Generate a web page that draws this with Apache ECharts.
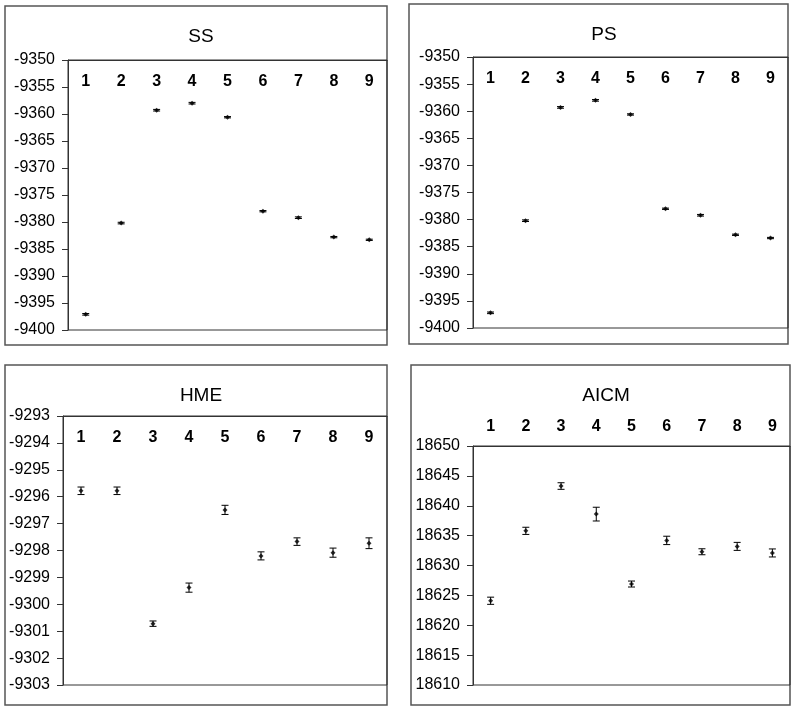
<!DOCTYPE html>
<html>
<head>
<meta charset="utf-8">
<script src="https://cdn.jsdelivr.net/npm/echarts@6/dist/echarts.min.js"></script>
<style>
  html, body { margin: 0; padding: 0; background: #fff; }
  #chart { width: 797px; height: 710px; }
</style>
</head>
<body>
<div id="chart"></div>
<script>
// categories (models 1..9)
const cats = ['1', '2', '3', '4', '5', '6', '7', '8', '9'];

// SS
const ssMean = [-9397.1, -9380.2, -9359.3, -9358.0, -9360.6, -9378.0, -9379.2, -9382.8, -9383.3];
const ssErr = [0.15, 0.15, 0.15, 0.15, 0.12, 0.12, 0.15, 0.12, 0.12];
// PS
const psMean = [-9397.2, -9380.2, -9359.3, -9358.0, -9360.6, -9378.0, -9379.2, -9382.8, -9383.4];
const psErr = [0.15, 0.15, 0.15, 0.15, 0.12, 0.12, 0.15, 0.12, 0.12];
// HME
const hmeMean = [-9295.78, -9295.78, -9300.72, -9299.38, -9296.49, -9298.2, -9297.67, -9298.08, -9297.73];
const hmeErr = [0.14, 0.14, 0.1, 0.17, 0.17, 0.15, 0.14, 0.17, 0.2];
// AICM
const aicmMean = [18624.1, 18635.8, 18643.3, 18638.6, 18626.9, 18634.2, 18632.3, 18633.2, 18632.1];
const aicmErr = [0.6, 0.6, 0.55, 1.15, 0.5, 0.7, 0.5, 0.67, 0.67];

const panels = [
  { name: 'SS', mean: ssMean, err: ssErr, min: -9400, max: -9350, step: 5, inside: true,
    grid: { left: 68, top: 60, width: 319, height: 270 }, box: [5, 6, 382, 339], tx: 196, ty: 22 },
  { name: 'PS', mean: psMean, err: psErr, min: -9400, max: -9350, step: 5, inside: true,
    grid: { left: 473, top: 57, width: 315, height: 271 }, box: [409, 4, 379, 340], tx: 599, ty: 20 },
  { name: 'HME', mean: hmeMean, err: hmeErr, min: -9303, max: -9293, step: 1, inside: true,
    grid: { left: 63, top: 416, width: 324, height: 269 }, box: [5, 365, 382, 340], tx: 196, ty: 381 },
  { name: 'AICM', mean: aicmMean, err: aicmErr, min: 18610, max: 18650, step: 5, inside: false,
    grid: { left: 473, top: 446, width: 317, height: 239 }, box: [411, 365, 379, 340], tx: 601, ty: 381 }
];

const grids = [], xAxes = [], yAxes = [], series = [], titles = [], graphics = [];

panels.forEach((p, i) => {
  grids.push(Object.assign({ show: true, borderColor: '#333', borderWidth: 1, backgroundColor: 'transparent' }, p.grid));
  titles.push({
    text: p.name, left: p.tx, top: p.ty, textAlign: 'center',
    textStyle: { fontFamily: 'Liberation Sans', fontSize: 19, fontWeight: 'normal', color: '#000' }
  });
  graphics.push({
    type: 'rect', shape: { x: p.box[0], y: p.box[1], width: p.box[2], height: p.box[3] },
    style: { fill: 'none', stroke: '#555', lineWidth: 1.5 }, silent: true, z: -1
  });
  xAxes.push({
    type: 'category', gridIndex: i, position: 'top', data: cats, boundaryGap: true,
    axisLine: { lineStyle: { color: '#333', width: 1 } },
    axisTick: { inside: true, length: 4, lineStyle: { color: '#333' } },
    axisLabel: {
      inside: p.inside, margin: p.inside ? 14 : 11,
      fontFamily: 'Liberation Sans', fontSize: 16, fontWeight: 'bold', color: '#000'
    },
    splitLine: { show: false }
  });
  yAxes.push({
    type: 'value', gridIndex: i, min: p.min, max: p.max, interval: p.step,
    axisLine: { show: true, lineStyle: { color: '#333', width: 1 } },
    axisTick: { show: true, length: 6, lineStyle: { color: '#333' } },
    axisLabel: {
      margin: 13, fontFamily: 'Liberation Sans', fontSize: 16, color: '#000',
      formatter: v => String(v)
    },
    splitLine: { show: false }
  });
  const bars = p.mean.map((m, k) => [k, m - p.err[k], m + p.err[k]]);
  series.push({
    type: 'custom', xAxisIndex: i, yAxisIndex: i, data: bars, silent: true,
    renderItem: (params, api) => {
      const lo = api.coord([api.value(0), api.value(1)]);
      const hi = api.coord([api.value(0), api.value(2)]);
      const w = 3.5;
      const style = { stroke: '#000', lineWidth: 1 };
      return {
        type: 'group',
        children: [
          { type: 'line', shape: { x1: lo[0], y1: lo[1], x2: hi[0], y2: hi[1] }, style },
          { type: 'line', shape: { x1: lo[0] - w, y1: lo[1], x2: lo[0] + w, y2: lo[1] }, style },
          { type: 'line', shape: { x1: hi[0] - w, y1: hi[1], x2: hi[0] + w, y2: hi[1] }, style }
        ]
      };
    }
  });
  series.push({
    type: 'scatter', xAxisIndex: i, yAxisIndex: i, silent: true,
    data: p.mean.map((m, k) => [k, m]),
    symbol: 'diamond', symbolSize: 5, itemStyle: { color: '#000' }
  });
});

const chart = echarts.init(document.getElementById('chart'));
chart.setOption({
  animation: false,
  backgroundColor: '#fff',
  title: titles,
  grid: grids,
  xAxis: xAxes,
  yAxis: yAxes,
  series: series,
  graphic: graphics
});
</script>
</body>
</html>
